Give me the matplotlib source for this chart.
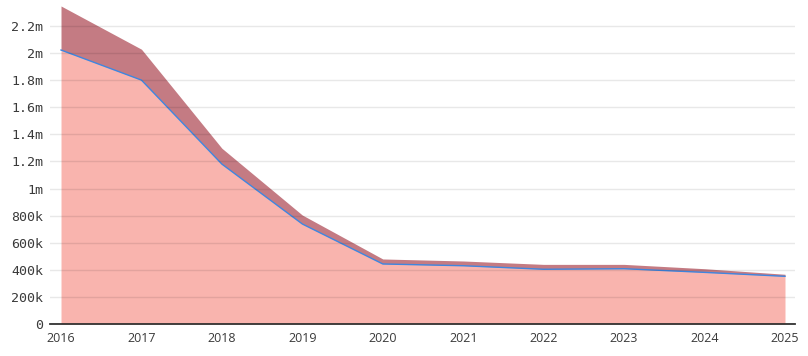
import matplotlib
matplotlib.use("Agg")
import matplotlib.pyplot as plt
from matplotlib.ticker import FuncFormatter
import numpy as np

# values
years = [2016, 2017, 2018, 2019, 2020, 2021, 2022, 2023, 2024, 2025]
lower = [2022000, 1800000, 1180000, 738000, 443000, 430000, 404000, 408000, 381000, 352000]
upper = [325000, 228000, 117000, 66000, 37000, 35000, 36000, 32000, 27000, 15000]

lower = np.array(lower)
total = lower + np.array(upper)


def fmt(v, pos):
    if v == 0:
        return "0"
    if v >= 1e6:
        s = f"{v / 1e6:.1f}".rstrip("0").rstrip(".")
        return s + "m"
    return f"{v / 1e3:.0f}k"


fig = plt.figure(figsize=(8.08, 3.56), dpi=100)
ax = fig.add_axes([50 / 808, 1 - 324 / 356, 745 / 808, 324 / 356])

ax.fill_between(years, 0, lower, color="#f9b4ae", lw=0)
ax.fill_between(years, lower, total, color="#c47b83", lw=0)
ax.plot(years, lower, color="#3f86e0", lw=1.0)

ax.set_xlim(2016 - 11 / 80.4, 2025 + 10 / 80.4)
ax.set_ylim(0, 324 / 135.5 * 1e6)
ax.set_yticks(np.arange(0, 2.2e6 + 1, 2e5))
ax.yaxis.set_major_formatter(FuncFormatter(fmt))
ax.set_xticks(years)
ax.set_xticklabels([str(y) for y in years])

ax.grid(axis="y", color="#000000", alpha=0.09, lw=1)
ax.set_axisbelow(False)
for s in ["left", "right", "top"]:
    ax.spines[s].set_visible(False)
ax.spines["bottom"].set_color("#333333")
ax.spines["bottom"].set_linewidth(1.3)

ax.tick_params(axis="y", length=0, pad=5, labelsize=9.5, labelcolor="#3a3a3a")
ax.tick_params(axis="x", length=0, pad=6, labelsize=9, labelcolor="#3a3a3a")
for lab in ax.get_yticklabels():
    lab.set_family("DejaVu Sans Mono")
for lab in ax.get_xticklabels():
    lab.set_family("Open Sans")

fig.savefig("out.png", dpi=100)
